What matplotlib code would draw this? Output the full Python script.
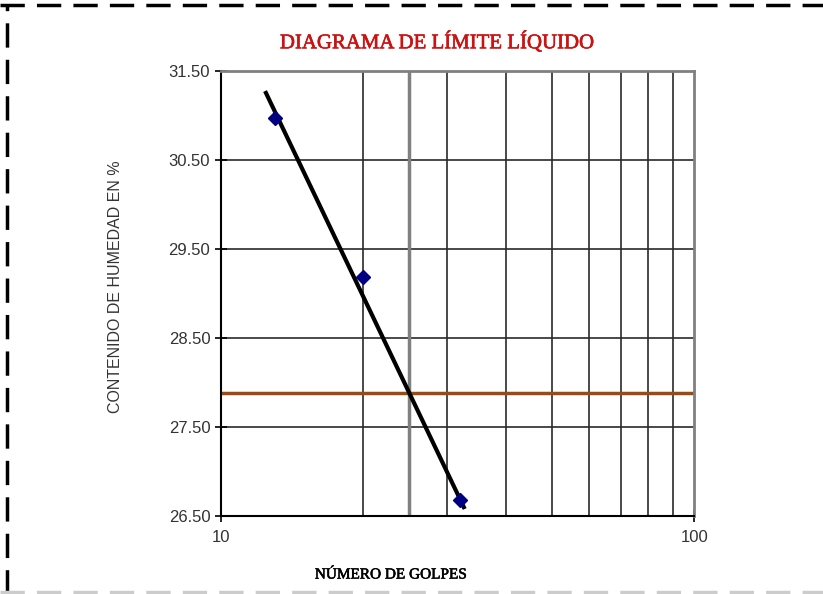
import matplotlib.pyplot as plt
import numpy as np
from matplotlib.lines import Line2D
import matplotlib.patheffects as pe

# ensayo de Casagrande
golpes = [13, 20, 32]
humedad = [30.97, 29.18, 26.68]
golpes_ref = 25

# recta trazada sobre los puntos (extremos)
tendencia_golpes = [12.46, 32.6]
tendencia_humedad = [31.25, 26.60]

y_ticks = [26.5, 27.5, 28.5, 29.5, 30.5, 31.5]
x_grid = [20, 30, 40, 50, 60, 70, 80, 90]

fig = plt.figure(figsize=(8.23, 5.94), dpi=100)
ax = fig.add_axes([0.2682, 0.1313, 0.5755, 0.7497])
ax.set_xscale('log')
ax.set_xlim(10, 100)
ax.set_ylim(26.5, 31.5)

# rejilla
for xv in x_grid:
    ax.axvline(xv, color='#2a2a2a', lw=1.2, zorder=1)
for yv in y_ticks[1:-1]:
    ax.axhline(yv, color='#2a2a2a', lw=1.2, zorder=1)
ax.axvline(golpes_ref, color='#808080', lw=2.5, zorder=1)

# limite liquido: humedad de la recta a 25 golpes
ax.plot(tendencia_golpes, tendencia_humedad, color='black', lw=3, zorder=3)
ll = np.interp(np.log10(golpes_ref), np.log10(tendencia_golpes),
               tendencia_humedad)
ax.axhline(ll, color='#9c4a0e', lw=2.5, zorder=2)

ax.plot(golpes, humedad, 'D', color='#000080', ms=7, zorder=4)

ax.set_xticks([10, 100])
ax.set_xticklabels(['10', '100'])
ax.xaxis.set_minor_locator(plt.NullLocator())
ax.set_yticks(y_ticks)
ax.set_yticklabels(['%.2f' % v for v in y_ticks])
ax.tick_params(direction='inout', length=8, width=1.2, labelsize=12,
               colors='black')
ax.tick_params(axis='x', pad=6)
for lbl in ax.get_xticklabels() + ax.get_yticklabels():
    lbl.set_family('Liberation Sans')
    lbl.set_color('#333333')

for s in ['left', 'bottom']:
    ax.spines[s].set_color('black')
    ax.spines[s].set_linewidth(1.5)
for s in ['top', 'right']:
    ax.spines[s].set_color('#808080')
    ax.spines[s].set_linewidth(2)

fig.text(0.532, 0.928, 'DIAGRAMA DE LÍMITE LÍQUIDO', color='#cc1111',
         family='Liberation Serif', fontsize=15, ha='center', va='center',
         path_effects=[pe.withStroke(linewidth=0.45, foreground='#cc1111')])
fig.text(0.1406, 0.517, 'CONTENIDO DE HUMEDAD EN %', color='#333333',
         family='Liberation Sans', fontsize=11.5, rotation=90,
         ha='center', va='center')
fig.text(0.475, 0.032, 'NÚMERO DE GOLPES', color='black',
         family='Liberation Serif', fontsize=11, ha='center', va='center',
         path_effects=[pe.withStroke(linewidth=0.4, foreground='black')])

# marco discontinuo
fig.add_artist(Line2D([0, 1], [0.992, 0.992], transform=fig.transFigure,
                      color='black', lw=2.5, ls=(0, (7, 3.5))))
fig.add_artist(Line2D([0.009, 0.009], [0, 0.992], transform=fig.transFigure,
                      color='black', lw=2.5, ls=(0, (7, 3.5))))
fig.add_artist(Line2D([0, 1], [0.004, 0.004], transform=fig.transFigure,
                      color='#cccccc', lw=2.5, ls=(0, (7, 3.5))))

fig.savefig('out.png', dpi=100)
